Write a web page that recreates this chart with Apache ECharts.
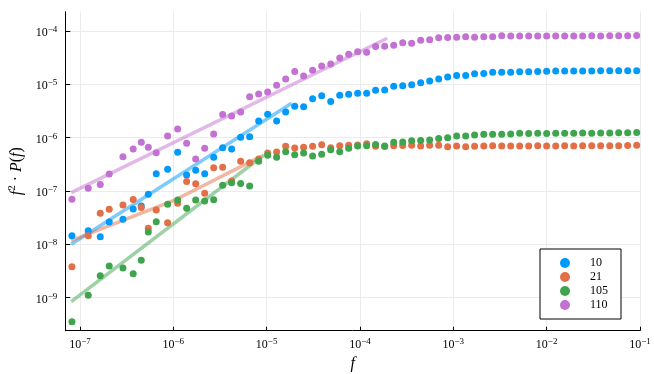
<!DOCTYPE html>
<html>
<head>
<meta charset="utf-8">
<title>f^2 P(f)</title>
<script src="https://cdn.jsdelivr.net/npm/echarts@6/dist/echarts.min.js"></script>
<style>
	* { margin: 0; padding: 0; border: 0; }
	html, body { width: 654px; height: 374px; background: #fff; }
	#main { width: 654px; height: 374px; }
</style>
</head>
<body>
<div id="main"></div>
<script type="text/javascript">
	// frequencies (shared by all series)
	var freq = [8.21e-8, 1.227e-7, 1.65e-7, 2.06e-7, 2.89e-7, 3.72e-7, 4.54e-7, 5.40e-7, 6.57e-7, 8.70e-7,
		1.114e-6, 1.39e-6, 1.738e-6, 2.17e-6, 2.71e-6, 3.38e-6, 4.22e-6, 5.27e-6, 6.58e-6, 8.22e-6,
		1.026e-5, 1.28e-5, 1.60e-5, 2.00e-5, 2.49e-5, 3.11e-5, 3.89e-5, 4.86e-5, 6.07e-5, 7.57e-5,
		9.45e-5, 1.18e-4, 1.47e-4, 1.84e-4, 2.30e-4, 2.87e-4, 3.58e-4, 4.47e-4, 5.58e-4, 6.97e-4,
		8.70e-4, 1.086e-3, 1.356e-3, 1.69e-3, 2.12e-3, 2.64e-3, 3.30e-3, 4.12e-3, 5.14e-3, 6.42e-3,
		8.02e-3, 1.00e-2, 1.25e-2, 1.56e-2, 1.95e-2, 2.43e-2, 3.04e-2, 3.79e-2, 4.74e-2, 5.91e-2,
		7.38e-2, 9.22e-2];

	var s10 = [1.45e-8, 1.80e-8, 1.39e-8, 2.62e-8, 2.94e-8, 4.59e-8, 5.23e-8, 8.67e-8, 2.11e-7, 2.56e-7,
		5.31e-7, 2.00e-7, 2.44e-7, 2.11e-7, 4.28e-7, 6.48e-7, 6.13e-7, 1.02e-6, 1.04e-6, 2.05e-6,
		2.74e-6, 2.05e-6, 3.03e-6, 3.89e-6, 3.81e-6, 5.36e-6, 6.12e-6, 4.76e-6, 6.25e-6, 6.53e-6,
		6.82e-6, 6.82e-6, 7.73e-6, 7.83e-6, 9.18e-6, 9.38e-6, 9.80e-6, 1.07e-5, 1.15e-5, 1.26e-5,
		1.37e-5, 1.46e-5, 1.46e-5, 1.58e-5, 1.60e-5, 1.68e-5, 1.68e-5, 1.69e-5, 1.72e-5, 1.72e-5,
		1.74e-5, 1.76e-5, 1.77e-5, 1.77e-5, 1.78e-5, 1.78e-5, 1.78e-5, 1.79e-5, 1.79e-5, 1.79e-5,
		1.80e-5, 1.80e-5];

	var s21 = [3.80e-9, 1.45e-8, 3.82e-8, 4.56e-8, 5.46e-8, 6.92e-8, 4.90e-8, 2.00e-8, 4.40e-8, 2.54e-8,
		5.88e-8, 1.51e-7, 1.37e-7, 9.09e-8, 2.73e-7, 2.78e-7, 1.54e-7, 3.60e-7, 3.39e-7, 3.98e-7,
		5.15e-7, 5.38e-7, 6.92e-7, 6.40e-7, 6.59e-7, 6.89e-7, 7.35e-7, 6.48e-7, 7.07e-7, 7.19e-7,
		7.28e-7, 7.71e-7, 6.92e-7, 6.83e-7, 7.07e-7, 7.12e-7, 7.22e-7, 6.98e-7, 7.19e-7, 7.19e-7,
		6.77e-7, 6.98e-7, 6.77e-7, 6.89e-7, 6.98e-7, 7.07e-7, 6.98e-7, 7.00e-7, 7.00e-7, 6.98e-7,
		7.02e-7, 7.00e-7, 7.00e-7, 7.03e-7, 7.00e-7, 7.02e-7, 7.05e-7, 7.03e-7, 7.05e-7, 7.08e-7,
		7.10e-7, 7.19e-7];

	var s105 = [3.54e-10, 1.11e-9, 2.58e-9, 3.92e-9, 3.60e-9, 2.80e-9, 5.01e-9, 1.70e-8, 2.65e-8, 5.63e-8,
		6.78e-8, 4.73e-8, 6.78e-8, 6.49e-8, 6.87e-8, 1.28e-7, 1.43e-7, 1.38e-7, 1.24e-7, 3.60e-7,
		4.67e-7, 4.28e-7, 5.46e-7, 4.79e-7, 5.15e-7, 4.53e-7, 4.90e-7, 5.92e-7, 5.46e-7, 6.31e-7,
		6.98e-7, 7.07e-7, 7.45e-7, 6.98e-7, 8.22e-7, 8.29e-7, 8.77e-7, 8.85e-7, 9.04e-7, 9.64e-7,
		9.98e-7, 1.07e-6, 1.07e-6, 1.12e-6, 1.16e-6, 1.16e-6, 1.16e-6, 1.17e-6, 1.21e-6, 1.20e-6,
		1.21e-6, 1.20e-6, 1.21e-6, 1.21e-6, 1.21e-6, 1.22e-6, 1.21e-6, 1.22e-6, 1.22e-6, 1.23e-6,
		1.23e-6, 1.25e-6];

	var s110 = [6.98e-8, 1.12e-7, 1.33e-7, 2.08e-7, 4.40e-7, 6.13e-7, 8.18e-7, 6.59e-7, 5.22e-7, 1.07e-6,
		1.45e-6, 7.84e-7, 3.98e-7, 6.31e-7, 1.17e-6, 2.72e-6, 2.55e-6, 3.03e-6, 5.86e-6, 6.59e-6,
		7.18e-6, 9.59e-6, 1.26e-5, 1.74e-5, 1.43e-5, 1.84e-5, 2.21e-5, 2.40e-5, 3.12e-5, 3.67e-5,
		4.07e-5, 4.00e-5, 5.12e-5, 5.17e-5, 5.40e-5, 6.01e-5, 5.88e-5, 6.72e-5, 6.84e-5, 7.49e-5,
		7.55e-5, 7.62e-5, 7.82e-5, 7.62e-5, 7.79e-5, 7.82e-5, 8.13e-5, 8.06e-5, 8.06e-5, 8.06e-5,
		8.06e-5, 8.06e-5, 8.08e-5, 8.06e-5, 8.08e-5, 8.06e-5, 8.10e-5, 8.08e-5, 8.10e-5, 8.10e-5,
		8.13e-5, 8.23e-5];

	// fitted power laws, [f, value] at the ends
	var fit10 = [[8.07e-8, 1.0e-8], [1.85e-5, 4.40e-6]];
	var fit21 = [[8.07e-8, 1.17e-8], [1.016e-6, 6.64e-8], [8.63e-6, 4.40e-7]];
	var fit105 = [[8.07e-8, 8.4e-10], [9.35e-6, 4.73e-7]];
	var fit110 = [[8.07e-8, 9.3e-8], [1.96e-4, 7.3e-5]];

	var names = ['10', '21', '105', '110'];
	var colors = ['#009AFA', '#E36F47', '#3EA44E', '#C371D2'];
	var xTicks = [1e-7, 1e-6, 1e-5, 1e-4, 1e-3, 1e-2, 1e-1];
	var yTicks = [1e-9, 1e-8, 1e-7, 1e-6, 1e-5, 1e-4];

	var SERIF = '"Liberation Serif", "DejaVu Serif", serif';

	function pairs(ys) {
		var out = [];
		for (var i = 0; i < freq.length; i++) out.push([freq[i], ys[i]]);
		return out;
	}
	function powLabel(value) {
		var e = Math.round(Math.log(value) / Math.LN10);
		return '{b|10}{s|' + (e < 0 ? '\u2212' + (-e) : e) + '}';
	}
	var labelRich = {
		b: { fontFamily: SERIF, fontSize: 12, lineHeight: 12, padding: [4, 0, 0, 0], color: '#000' },
		s: { fontFamily: SERIF, fontSize: 9, lineHeight: 9, verticalAlign: 'top', color: '#000' }
	};

	var myChart = echarts.init(document.getElementById('main'), null, { renderer: 'canvas' });

	var series = [];
	var scatters = [s10, s21, s105, s110];
	var fits = [fit10, fit21, fit105, fit110];
	for (var i = 0; i < 4; i++) {
		series.push({
			name: names[i],
			type: 'line',
			data: fits[i],
			showSymbol: false,
			symbol: 'none',
			silent: true,
			lineStyle: { color: colors[i], width: 3.5, opacity: 0.5 },
			z: 1
		});
	}
	for (var i = 0; i < 4; i++) {
		series.push({
			name: names[i],
			type: 'scatter',
			data: pairs(scatters[i]),
			symbol: 'circle',
			symbolSize: 7,
			itemStyle: { color: colors[i], opacity: 1 },
			z: 2
		});
	}

	var option = {
		animation: false,
		backgroundColor: '#fff',
		grid: { left: 65.3, right: 14, top: 11.7, bottom: 43.3, outerBoundsMode: 'none' },
		legend: {
			data: names.map(function (n, i) { return { name: n, icon: 'circle', itemStyle: { color: colors[i] } }; }),
			orient: 'vertical',
			left: 540,
			top: 249,
			itemWidth: 10,
			itemHeight: 10,
			itemGap: 0,
			padding: [7, 13, 7, 20],
			borderColor: '#000',
			borderWidth: 1,
			backgroundColor: '#fff',
			textStyle: { fontFamily: SERIF, fontSize: 12, lineHeight: 14, color: '#000', padding: [0, 0, 0, 15] }
		},
		xAxis: {
			type: 'log',
			logBase: 10,
			min: 6.97e-8,
			max: 0.1,
			name: 'f',
			nameLocation: 'middle',
			nameGap: 20,
			nameTextStyle: { fontFamily: SERIF, fontStyle: 'italic', fontSize: 16, color: '#000' },
			axisLine: { show: true, onZero: false, lineStyle: { color: '#000', width: 1 } },
			axisTick: { show: true, inside: true, length: 4, customValues: xTicks, lineStyle: { color: '#000' } },
			axisLabel: { customValues: xTicks, margin: 6, formatter: powLabel, rich: labelRich },
			splitLine: { show: true, lineStyle: { color: '#ebebeb', width: 1 } }
		},
		yAxis: {
			type: 'log',
			logBase: 10,
			min: 2.40e-10,
			max: 2.30e-4,
			name: '{i|f}{s|2}{n| \u00b7 }{i|P}{n|(}{i|f}{n|)}',
			nameLocation: 'middle',
			nameGap: 40,
			nameTextStyle: {
				color: '#000',
				rich: {
					i: { fontFamily: SERIF, fontStyle: 'italic', fontSize: 16, lineHeight: 16, padding: [5, 0, 0, 0] },
					n: { fontFamily: SERIF, fontSize: 16, lineHeight: 16, padding: [5, 0, 0, 0] },
					s: { fontFamily: SERIF, fontSize: 11, lineHeight: 11, verticalAlign: 'top' }
				}
			},
			axisLine: { show: true, onZero: false, lineStyle: { color: '#000', width: 1 } },
			axisTick: { show: true, inside: true, length: 5, customValues: yTicks, lineStyle: { color: '#000' } },
			axisLabel: { customValues: yTicks, margin: 8, formatter: powLabel, rich: labelRich },
			splitLine: { show: true, lineStyle: { color: '#ebebeb', width: 1 } }
		},
		series: series
	};

	myChart.setOption(option);
</script>
</body>
</html>
